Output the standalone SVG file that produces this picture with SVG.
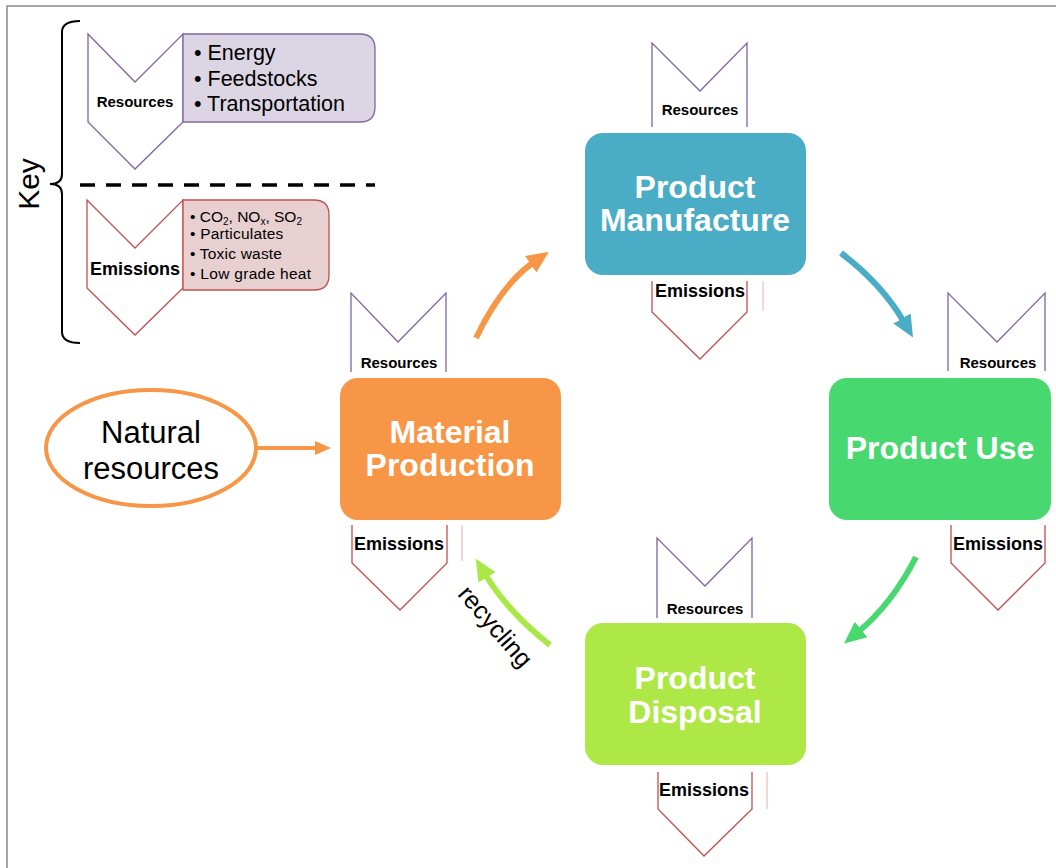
<svg xmlns="http://www.w3.org/2000/svg" width="1056" height="868" viewBox="0 0 1056 868">
<defs>
<style>
.res{fill:#fff;stroke:#8064a2;stroke-width:1.3}
.emi{fill:#fff;stroke:#c0504d;stroke-width:1.3}
.lbl{font-family:"Liberation Sans",Arial,sans-serif;font-weight:bold;fill:#000;text-anchor:middle}
.node{font-family:"Liberation Sans",Arial,sans-serif;font-weight:bold;font-size:32px;fill:#fff;text-anchor:middle}
.txt{font-family:"Liberation Sans",Arial,sans-serif;fill:#000}
.faint{stroke:#f0d8d8;stroke-width:2}
</style>
<marker id="ahO" markerUnits="userSpaceOnUse" markerWidth="24" markerHeight="24" viewBox="0 0 24 24" refX="4" refY="12" orient="auto"><path d="M0,2 L22,12 L0,22 Z" fill="#f79646"/></marker>
<marker id="ahB" markerUnits="userSpaceOnUse" markerWidth="24" markerHeight="24" viewBox="0 0 24 24" refX="4" refY="12" orient="auto"><path d="M0,2 L22,12 L0,22 Z" fill="#4bacc6"/></marker>
<marker id="ahG" markerUnits="userSpaceOnUse" markerWidth="24" markerHeight="24" viewBox="0 0 24 24" refX="4" refY="12" orient="auto"><path d="M0,2 L22,12 L0,22 Z" fill="#47d86f"/></marker>
<marker id="ahL" markerUnits="userSpaceOnUse" markerWidth="24" markerHeight="24" viewBox="0 0 24 24" refX="4" refY="12" orient="auto"><path d="M0,2 L22,12 L0,22 Z" fill="#a9e848"/></marker>
<marker id="ahN" markerUnits="userSpaceOnUse" markerWidth="20" markerHeight="20" viewBox="0 0 20 20" refX="3" refY="10" orient="auto"><path d="M0,3 L16,10 L0,17 Z" fill="#f79646"/></marker>
</defs>
<rect width="1056" height="868" fill="#fff"/>
<path d="M7,870 L7,6 L1060,6" fill="none" stroke="#8a8a8a" stroke-width="1.5"/>

<g id="key">
<path d="M80,21 Q62,21 62,32 L62,174 Q62,184 50,184 Q62,184 62,194 L62,332 Q62,343 80,343" fill="none" stroke="#000" stroke-width="2"/>
<text class="txt" x="0" y="0" font-size="30" text-anchor="middle" transform="translate(39,184) rotate(-90)">Key</text>
<line x1="80" y1="185" x2="375" y2="185" stroke="#000" stroke-width="3.5" stroke-dasharray="15 11"/>
<path class="res" d="M88,34 L135,82 L183,34 L183,122 L135,169 L88,122 Z"/>
<path d="M183,34 L360,34 Q375,34 375,49 L375,107 Q375,122 360,122 L183,122 Z" fill="#dcd6e4" stroke="#8064a2" stroke-width="1.3"/>
<text class="lbl" x="135" y="107" font-size="15">Resources</text>
<text class="txt" x="194" y="60" font-size="21.5">• Energy</text>
<text class="txt" x="194" y="86" font-size="21.5">• Feedstocks</text>
<text class="txt" x="194" y="111" font-size="21.5">• Transportation</text>
<path class="emi" d="M87,200 L135,248 L183,200 L183,288 L135,335 L87,288 Z"/>
<path d="M183,200 L314,200 Q329,200 329,215 L329,275 Q329,290 314,290 L183,290 Z" fill="#e8d0d1" stroke="#c0504d" stroke-width="1.3"/>
<text class="lbl" x="135" y="275" font-size="18">Emissions</text>
<text class="txt" x="190" y="222" font-size="15.5">• CO<tspan font-size="10" baseline-shift="-3">2</tspan>, NO<tspan font-size="10" baseline-shift="-3">x</tspan>, SO<tspan font-size="10" baseline-shift="-3">2</tspan></text>
<text class="txt" x="190" y="239" font-size="15.5" letter-spacing="0.2">• Particulates</text>
<text class="txt" x="190" y="259" font-size="15.5" letter-spacing="0.2">• Toxic waste</text>
<text class="txt" x="190" y="279" font-size="15.5" letter-spacing="0.3">• Low grade heat</text>
</g>

<g id="natural-resources">
<ellipse cx="151" cy="448" rx="105" ry="58" fill="#fff" stroke="#f79646" stroke-width="4"/>
<text class="txt" x="151" y="443" font-size="31" text-anchor="middle">Natural</text>
<text class="txt" x="151" y="479" font-size="31" text-anchor="middle">resources</text>
</g>

<g id="material-production">
<path class="res" d="M351,372 L351,293 L398,342 L446,293 L446,372"/>
<text class="lbl" x="399" y="368" font-size="15">Resources</text>
<rect x="340" y="378" width="221" height="142" rx="18" fill="#f79646"/>
<text class="node" x="450" y="443">Material</text>
<text class="node" x="450" y="476">Production</text>
<path class="emi" d="M352,525 L352,563 L400,610 L447,563 L447,525"/>
<line class="faint" x1="462" y1="525" x2="462" y2="561"/>
<text class="lbl" x="399" y="550" font-size="18">Emissions</text>
</g>

<g id="product-manufacture">
<path class="res" d="M652,127 L652,43 L700,91 L747,43 L747,127"/>
<text class="lbl" x="700" y="115" font-size="15">Resources</text>
<rect x="585" y="133" width="221" height="142" rx="18" fill="#4bacc6"/>
<text class="node" x="695" y="198">Product</text>
<text class="node" x="695" y="231">Manufacture</text>
<path class="emi" d="M652,281 L652,312 L700,359 L747,312 L747,281"/>
<line class="faint" x1="763" y1="281" x2="763" y2="311"/>
<text class="lbl" x="700" y="297" font-size="18">Emissions</text>
</g>

<g id="product-use">
<path class="res" d="M948,371 L948,293 L997,342 L1045,293 L1045,371"/>
<text class="lbl" x="998" y="368" font-size="15">Resources</text>
<rect x="829" y="378" width="222" height="142" rx="18" fill="#47d86f"/>
<text class="node" x="940" y="459">Product Use</text>
<path class="emi" d="M951,525 L951,563 L998,610 L1045,563 L1045,525"/>
<text class="lbl" x="998" y="550" font-size="18">Emissions</text>
</g>

<g id="product-disposal">
<path class="res" d="M657,618 L657,538 L705,586 L752,538 L752,618"/>
<text class="lbl" x="705" y="614" font-size="15">Resources</text>
<rect x="585" y="623" width="221" height="142" rx="18" fill="#aee846"/>
<text class="node" x="695" y="689">Product</text>
<text class="node" x="695" y="723">Disposal</text>
<path class="emi" d="M658,772 L658,809 L704,856 L752,809 L752,772"/>
<line class="faint" x1="767" y1="772" x2="767" y2="809"/>
<text class="lbl" x="704" y="796" font-size="18">Emissions</text>
</g>

<g id="connectors" fill="none">
<path d="M258,448 L318,448" stroke="#f79646" stroke-width="4" marker-end="url(#ahN)"/>
<path d="M476,338 Q502,284 534,262" stroke="#f79646" stroke-width="6" marker-end="url(#ahO)"/>
<path d="M841,253 Q882,284 904,322" stroke="#4bacc6" stroke-width="6" marker-end="url(#ahB)"/>
<path d="M916,557 Q892,604 858,632" stroke="#47d86f" stroke-width="6" marker-end="url(#ahG)"/>
<path d="M550,645 Q508,612 485,574" stroke="#a9e848" stroke-width="6" marker-end="url(#ahL)"/>
</g>
<text class="txt" x="0" y="0" font-size="25" text-anchor="middle" transform="translate(489,632) rotate(49)">recycling</text>
</svg>
